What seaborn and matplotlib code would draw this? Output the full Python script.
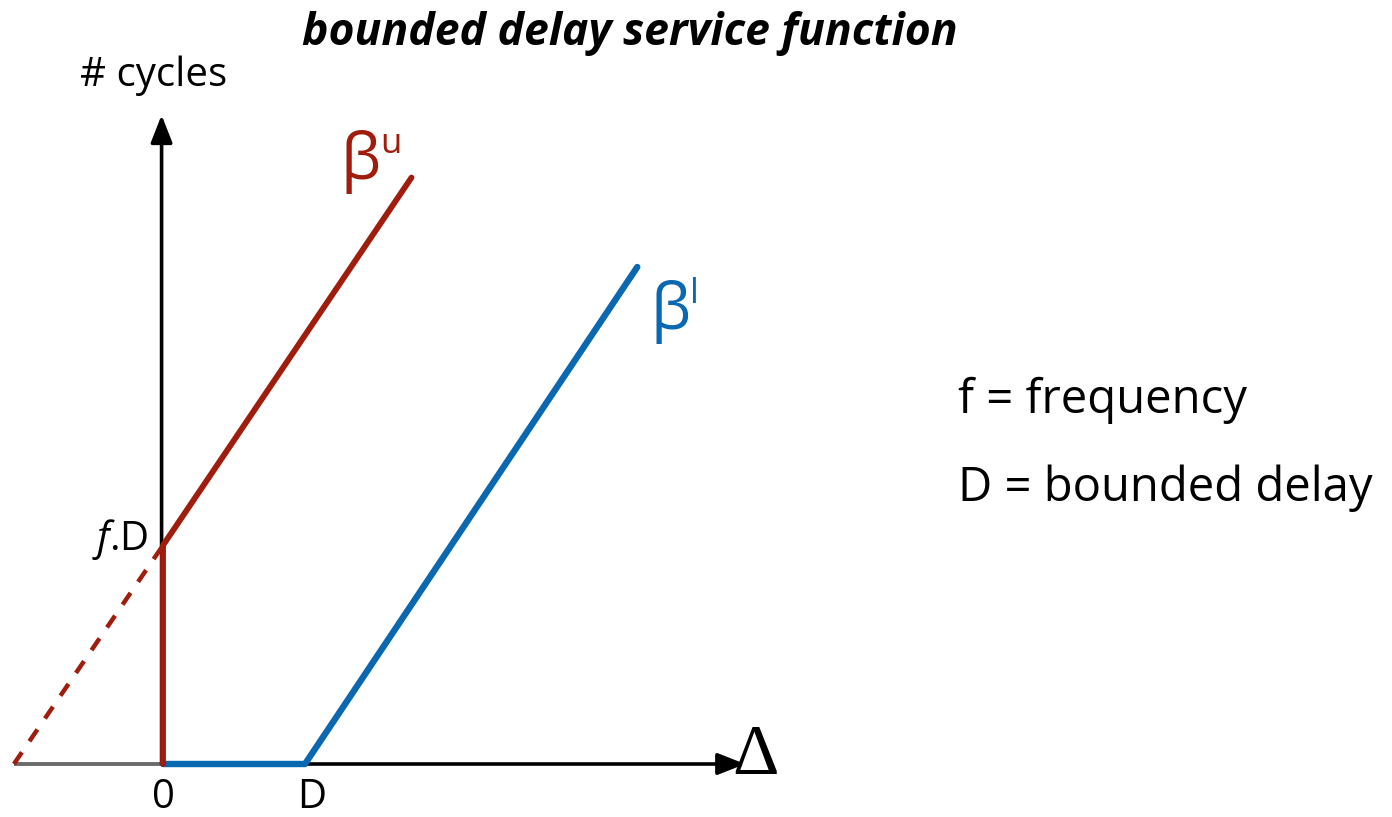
import matplotlib
matplotlib.use("Agg")
import matplotlib.pyplot as plt
import seaborn as sns
import pandas as pd

sns.set_theme(style="white")
plt.rcParams['font.family'] = ['Open Sans', 'DejaVu Sans']
plt.rcParams['text.color'] = 'black'
plt.rcParams['mathtext.fontset'] = 'custom'
plt.rcParams['mathtext.rm'] = 'Open Sans'
plt.rcParams['mathtext.it'] = 'Open Sans:italic'

# ---- data (units: D = 1) ----
upper_dash_delta = [-1.05, 0.0]
upper_dash_cycles = [0.0, 1.54]
upper_delta = [0.0, 0.0, 1.75]
upper_cycles = [0.0, 1.54, 4.13]
lower_delta = [0.0, 1.0, 3.34]
lower_cycles = [0.0, 0.0, 3.50]
xaxis_left = -1.05
xaxis_tip = 4.10
yaxis_tip = 4.57

RED = "#A01C0C"
BLUE = "#0A68B2"
GRAY = "#6B6B6B"

W, H = 1392, 817
PX = 142.0   # pixels per unit
X0, Y0 = 163, 764

fig = plt.figure(figsize=(W / 100, H / 100), dpi=100)
ax = fig.add_axes([0, 0, 1, 1])
ax.set_xlim(-X0 / PX, (W - X0) / PX)
ax.set_ylim(-(H - Y0) / PX, Y0 / PX)
ax.axis("off")

def px2d(x, y):
    return (x - X0) / PX, (Y0 - y) / PX

# axes
ax.plot([xaxis_left, 0.05], [0, 0], color=GRAY, lw=2.8, solid_capstyle="butt", zorder=1)
ax.annotate("", xy=(xaxis_tip, 0), xytext=(0.05, 0),
            arrowprops=dict(arrowstyle="-|>,head_length=1.4,head_width=0.55",
                            color="black", lw=2.6, shrinkA=0, shrinkB=0), zorder=1)
ax.annotate("", xy=(-0.01, yaxis_tip), xytext=(-0.01, 0),
            arrowprops=dict(arrowstyle="-|>,head_length=1.4,head_width=0.55",
                            color="black", lw=2.6, shrinkA=0, shrinkB=0), zorder=1)

# curves
df_dash = pd.DataFrame({"delta": upper_dash_delta, "cycles": upper_dash_cycles})
df_up = pd.DataFrame({"delta": upper_delta, "cycles": upper_cycles})
df_lo = pd.DataFrame({"delta": lower_delta, "cycles": lower_cycles})
sns.lineplot(data=df_dash, x="delta", y="cycles", ax=ax, color=RED, lw=3.2,
             sort=False, estimator=None, linestyle=(0, (3.2, 3.0)), zorder=3)
sns.lineplot(data=df_lo, x="delta", y="cycles", ax=ax, color=BLUE, lw=4.6,
             sort=False, estimator=None, zorder=3)
sns.lineplot(data=df_up, x="delta", y="cycles", ax=ax, color=RED, lw=4.2,
             sort=False, estimator=None, zorder=4)
ax.set_xlabel("")
ax.set_ylabel("")

# texts
def T(x, y, s, **kw):
    dx, dy = px2d(x, y)
    ax.text(dx, dy, s, **kw)

T(630, 33, "bounded delay service function", fontsize=32, fontweight="bold",
  fontstyle="italic", ha="center", va="center")
T(154, 76, "# cycles", fontsize=29, ha="center", va="center")
T(958, 400, "f = frequency", fontsize=34, ha="left", va="center")
T(958, 488, "D = bounded delay", fontsize=34, ha="left", va="center")
T(163, 798, "0", fontsize=29, ha="center", va="center")
T(312, 798, "D", fontsize=29, ha="center", va="center")
T(148, 540, r"$\mathit{f}$.D", fontsize=29, ha="right", va="center")
T(732, 757, "Δ", fontsize=52, ha="left", va="center", family="Liberation Serif")
T(360, 162, "β", fontsize=46, color=RED, ha="center", va="center")
T(391, 144, "u", fontsize=25, color=RED, ha="center", va="center")
T(670, 312, "β", fontsize=46, color=BLUE, ha="center", va="center")
T(694, 294, "l", fontsize=25, color=BLUE, ha="center", va="center")

fig.savefig("out.png", dpi=100, facecolor="white")
